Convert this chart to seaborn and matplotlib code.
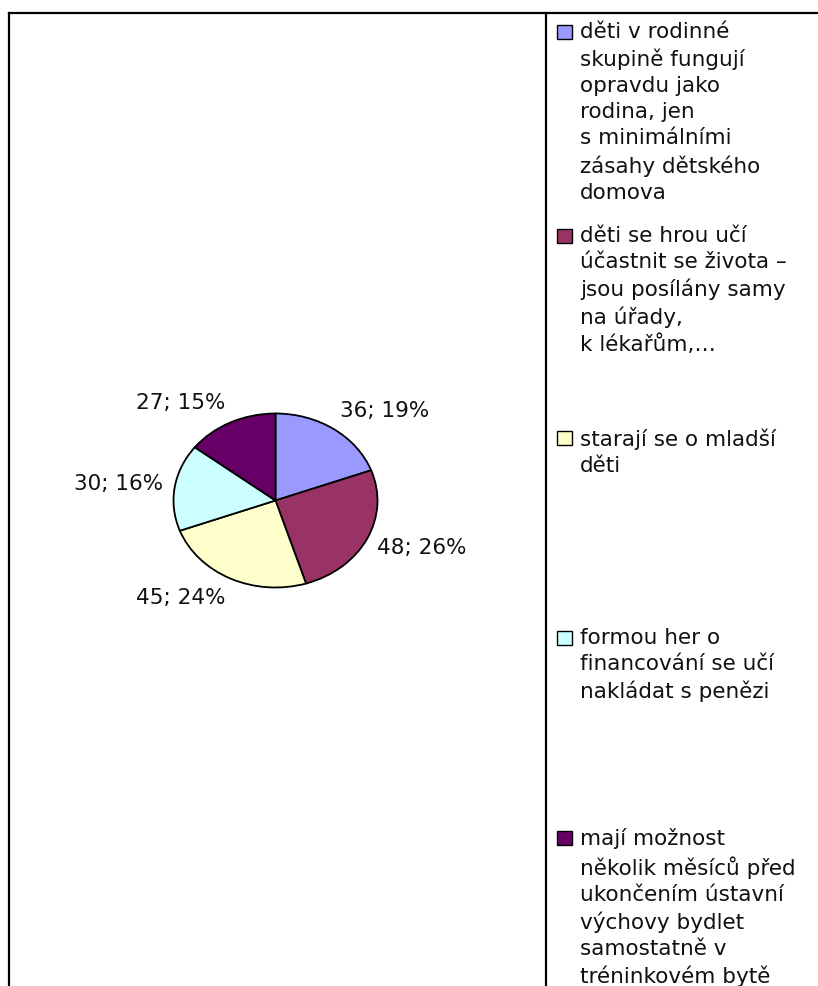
import numpy as np
import matplotlib
matplotlib.use("Agg")
import matplotlib.pyplot as plt
import seaborn as sns
from matplotlib.lines import Line2D
from matplotlib.patches import Rectangle

# ==========================================
# Data
# ==========================================

categories = [
    "děti v rodinné\nskupině fungují\nopravdu jako\nrodina, jen\ns minimálními\nzásahy dětského\ndomova",
    "děti se hrou učí\núčastnit se života –\njsou posílány samy\nna úřady,\nk lékařům,…",
    "starají se o mladší\nděti",
    "formou her o\nfinancování se učí\nnakládat s penězi",
    "mají možnost\nněkolik měsíců před\nukončením ústavní\nvýchovy bydlet\nsamostatně v\ntréninkovém bytě",
]
counts = [36, 48, 45, 30, 27]
colors = ["#9999FF", "#993366", "#FFFFCC", "#CCFFFF", "#660066"]

# ==========================================
# Style
# ==========================================

sns.set_style("white")
plt.rcParams["font.family"] = ["DejaVu Sans"]

W, H = 818, 986
fig = plt.figure(figsize=(W / 100, H / 100), dpi=100)


def fx(px):
    return px / W


def fy(py):
    return 1 - py / H


# ==========================================
# Pie (slightly flattened, like the Excel original)
# ==========================================

cx, cy, rx, ry = 275.5, 500.5, 102, 87
ax = fig.add_axes([fx(cx - rx), fy(cy + ry), 2 * rx / W, 2 * ry / H])
wedges, _ = ax.pie(
    counts,
    colors=colors,
    startangle=90,
    counterclock=False,
    wedgeprops=dict(edgecolor="black", linewidth=1.3),
)
ax.set_aspect("auto")
ax.set_xlim(-1, 1)
ax.set_ylim(-1, 1)
ax.axis("off")

total = sum(counts)
for w, n in zip(wedges, counts):
    mid = np.deg2rad((w.theta1 + w.theta2) / 2)
    c, s = np.cos(mid), np.sin(mid)
    ha = "left" if c > 0 else "right"
    ax.text(1.11 * c, 1.25 * s, f"{n}; {round(100 * n / total)}%",
            ha=ha, va="center", fontsize=15.5, color="#111111")

# ==========================================
# Frame lines
# ==========================================

frame = dict(color="black", linewidth=1.6, solid_capstyle="projecting")
fig.add_artist(Line2D([fx(8.5), 1.0], [fy(12.5), fy(12.5)], transform=fig.transFigure, **frame))
fig.add_artist(Line2D([fx(8.5), fx(8.5)], [fy(12.5), 0.0], transform=fig.transFigure, **frame))
fig.add_artist(Line2D([fx(546), fx(546)], [fy(12.5), 0.0], transform=fig.transFigure, **frame))

# ==========================================
# Legend (entries spread over the height, clipped at the bottom)
# ==========================================

entry_y = [32, 236, 438, 638, 838]
for label, col, y in zip(categories, colors, entry_y):
    fig.add_artist(Rectangle((fx(557), fy(y + 7)), 15 / W, 14 / H,
                             transform=fig.transFigure, facecolor=col,
                             edgecolor="black", linewidth=1.0))
    fig.text(fx(580), fy(y - 10), label, ha="left", va="top",
             fontsize=15.5, linespacing=1.38, color="#111111")

plt.savefig("out.png", dpi=100)
plt.close()
